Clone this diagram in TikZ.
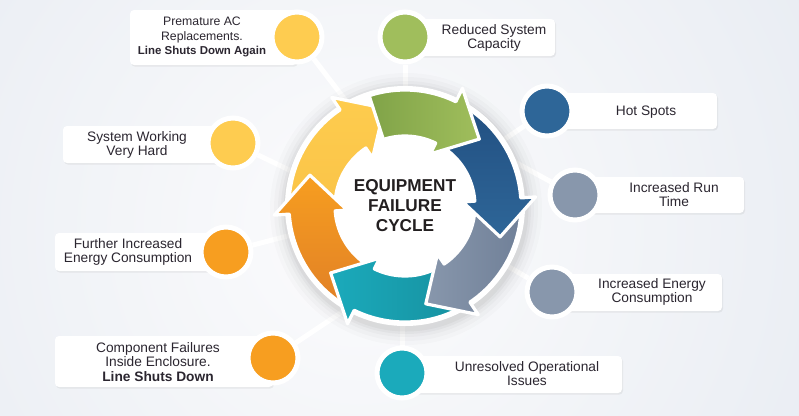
\documentclass[tikz,border=0pt]{standalone}
\usepackage{fontspec}
\setmainfont{Liberation Sans}
\usetikzlibrary{shadows,calc}
\definecolor{cyel}{RGB}{254,204,78}
\definecolor{cyelB}{RGB}{250,196,72}
\definecolor{cgrn}{RGB}{160,190,92}
\definecolor{cgrnB}{RGB}{128,163,72}
\definecolor{cblu}{RGB}{46,102,152}
\definecolor{cbluB}{RGB}{34,80,130}
\definecolor{cgry}{RGB}{136,151,172}
\definecolor{cgryB}{RGB}{112,128,152}
\definecolor{ctea}{RGB}{27,170,187}
\definecolor{cteaB}{RGB}{22,145,160}
\definecolor{corg}{RGB}{247,158,32}
\definecolor{corgB}{RGB}{225,128,38}
\definecolor{cdot}{RGB}{254,204,80}
\definecolor{txt}{RGB}{43,38,48}
\definecolor{ctitle}{RGB}{35,31,32}
\definecolor{bgout}{RGB}{222,228,237}
\definecolor{bgin}{RGB}{252,252,253}
\newcommand{\ringarrow}[5]{%
  \shadedraw[seg, #1] (#2:70) -- (#2:116) arc[start angle=#2, end angle=#3, radius=116]
    -- (#3:131) -- (#4:100) -- (#3:58) -- (#3:70)
    arc[start angle=#3, end angle=#2, radius=70] -- cycle;}
\begin{document}
\begin{tikzpicture}[x=0.75pt,y=-0.75pt,
  lbl/.style={font=\fontsize{10.3}{10.6}\selectfont, text=txt, align=center, inner sep=0pt},
  box/.style={rectangle, fill=white, rounded corners=3pt, inner sep=0pt,
    drop shadow={opacity=0.12, shadow xshift=0.8pt, shadow yshift=-1.2pt}},
  dot/.style={circle, draw=white, line width=3.75pt, minimum size=37.5pt, inner sep=0pt,
    drop shadow={opacity=0.15, shadow xshift=0.8pt, shadow yshift=-1.2pt}},
  link/.style={draw=white, line width=3.75pt},
  seg/.style={draw=white, line width=2.4pt, line join=round}]
\useasboundingbox (0,0) rectangle (799,415);
% background
\begin{scope}
  \clip (0,0) rectangle (799,415);
  \fill[bgout] (0,0) rectangle (799,415);
  \shade[inner color=bgin, outer color=bgout] (360,230) circle (800);
\end{scope}
% label boxes
\node[box, minimum width=125.25pt, minimum height=41.25pt] (b1) at (213.5,37.5) {};
\node[box, minimum width=112.5pt, minimum height=27.75pt] (b2) at (480,37.5) {};
\node[box, minimum width=127.5pt, minimum height=27pt] (b3) at (632,111) {};
\node[box, minimum width=126.75pt, minimum height=27pt] (b4) at (659.5,195) {};
\node[box, minimum width=127.5pt, minimum height=27.75pt] (b5) at (637,292.5) {};
\node[box, minimum width=165pt, minimum height=27.75pt] (b6) at (512,374.5) {};
\node[box, minimum width=163.5pt, minimum height=38.25pt] (b7) at (164,361.5) {};
\node[box, minimum width=128.25pt, minimum height=28.5pt] (b8) at (140.5,252) {};
\node[box, minimum width=127.5pt, minimum height=27.75pt] (b9) at (148,144.5) {};
% circles
\node[dot, fill=cdot] (c1) at (297,37) {};
\node[dot, fill=cgrn] (c2) at (405,37) {};
\node[dot, fill=cblu] (c3) at (547,111) {};
\node[dot, fill=cgry] (c4) at (575,195) {};
\node[dot, fill=cgry] (c5) at (552,292) {};
\node[dot, fill=ctea] (c6) at (402,373) {};
\node[dot, fill=corg] (c7) at (273,358) {};
\node[dot, fill=corg] (c8) at (226,252) {};
\node[dot, fill=cdot] (c9) at (233,143) {};
% labels
\node[lbl, font=\fontsize{9.2}{10.9}\selectfont] (t1) at (202,37)
  {Premature AC\\Replacements.\\{\fontsize{8.6}{10.9}\selectfont\bfseries Line Shuts Down Again}};
\node[lbl] (t2) at (494,38) {Reduced System\\Capacity};
\node[lbl] (t3) at (646,112) {Hot Spots};
\node[lbl] (t4) at (674,195) {Increased Run\\Time};
\node[lbl] (t5) at (652,292) {Increased Energy\\Consumption};
\node[lbl] (t6) at (527,374) {Unresolved Operational\\Issues};
\node[lbl] (t7) at (158,362) {Component Failures\\Inside Enclosure.\\\textbf{Line Shuts Down}};
\node[lbl] (t8) at (128,252) {Further Increased\\Energy Consumption};
\node[lbl] (t9) at (137,145) {System Working\\Very Hard};
% connectors
\coordinate (e1) at (366,127);
\coordinate (e2) at (405,120);
\coordinate (e3) at (470,162);
\coordinate (e4) at (491,149);
\coordinate (e5) at (480,250);
\coordinate (e6) at (402,300);
\coordinate (e7) at (354,304);
\coordinate (e8) at (330,225);
\coordinate (e9) at (333,191);
\foreach \i in {1,...,9} { \draw[link] (c\i) -- (e\i); }
% ring soft shadow
\foreach \r/\o in {136/0.015,132/0.02,128/0.025,125/0.03,122.5/0.035} {
  \fill[black, opacity=\o] (406,209) circle (\r);
}
\fill[white] (405,206) circle (120);
\begin{scope}[shift={(405,206)}]
  \ringarrow{top color=cyel, bottom color=cyelB}{-180}{-124}{-102}{}
  \ringarrow{top color=corg, bottom color=corgB}{120}{176}{198}{}
  \ringarrow{left color=ctea, right color=cteaB}{60}{116}{138}{}
  \ringarrow{left color=cgry, right color=cgryB}{0}{56}{78}{}
  \ringarrow{top color=cbluB, bottom color=cblu}{-60}{-4}{18}{}
  \ringarrow{left color=cgrnB, right color=cgrn}{-108}{-64}{-42}{}
\end{scope}
\node[font=\bfseries\fontsize{12.9}{15}\selectfont, text=ctitle, align=center, inner sep=0pt]
  (title) at (405,206) {EQUIPMENT\\FAILURE\\CYCLE};
\end{tikzpicture}
\end{document}
